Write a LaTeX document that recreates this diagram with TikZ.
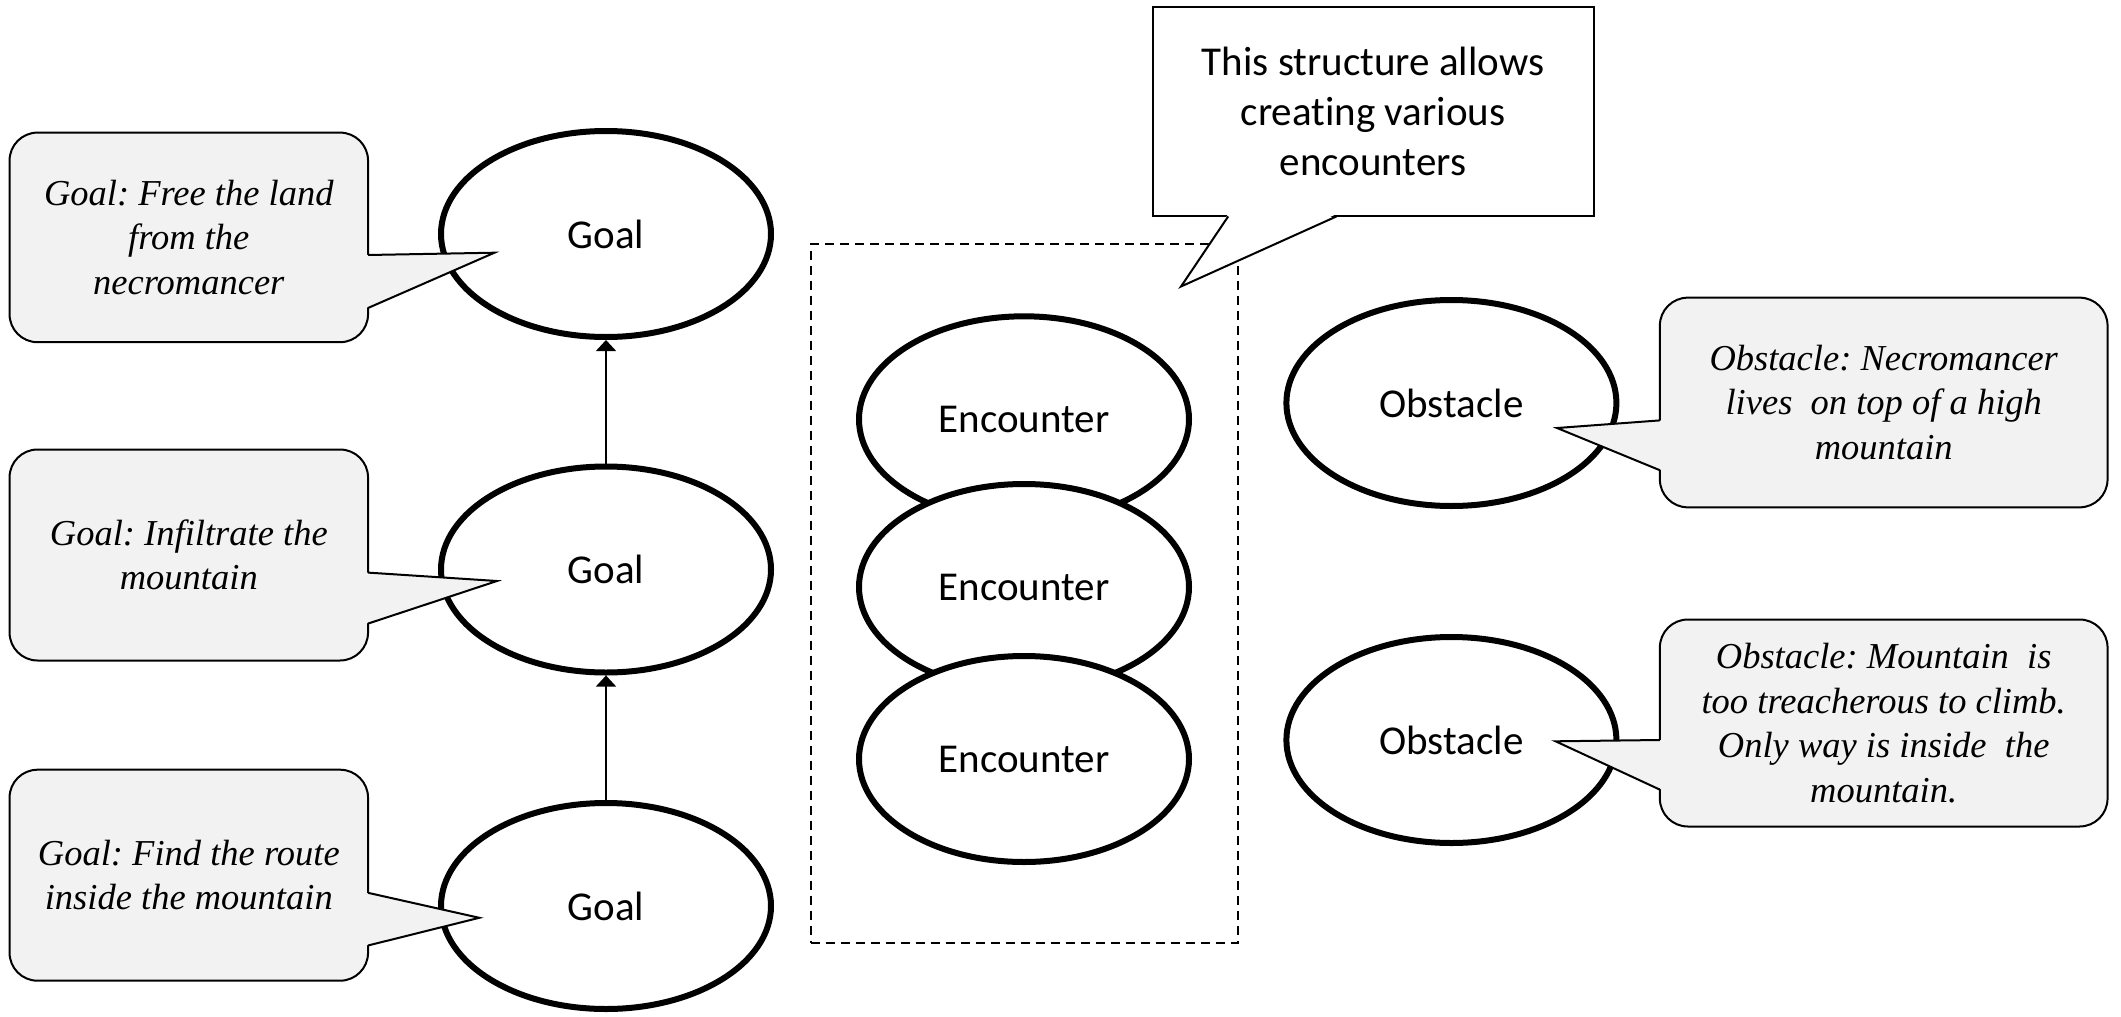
\documentclass[tikz,border=0pt]{standalone}
\usepackage{fontspec}
\setmainfont{Liberation Serif}
\newfontfamily\calib[Ligatures=NoCommon]{Carlito}
\usetikzlibrary{shapes.geometric,arrows.meta}
\definecolor{callfill}{HTML}{F2F2F2}
\frenchspacing
\begin{document}
\begin{tikzpicture}[x=1pt,y=-1pt,
  ell/.style={ellipse, draw, line width=6pt, fill=white, minimum width=330pt, minimum height=206pt, inner sep=0pt, font=\calib\fontsize{41}{50}\selectfont},
  callbox/.style={draw, line width=2pt, fill=callfill, rounded corners=28pt, inner sep=0pt, align=center, font=\itshape\fontsize{36.5}{44.6}\selectfont},
  ptrfill/.style={fill=callfill},
  ptrline/.style={line width=2pt, line join=miter},
  note/.style={draw, line width=2pt, fill=white, inner sep=0pt, align=center, font=\calib\fontsize{41}{50}\selectfont},
  link/.style={line width=1.3pt, -{Triangle[width=20pt,length=11pt]}}
]
\useasboundingbox (0,0) rectangle (2121,1017);

% goal ellipses
\node[ell] (g1) at (606,234) {Goal};
\node[ell] (g2) at (606,569.5) {Goal};
\node[ell] (g3) at (606,906) {Goal};
\draw[link] (g2.north) -- (g1.south);
\draw[link] (g3.north) -- (g2.south);

% dashed frame and encounters
\node[draw, line width=2pt, dash pattern=on 9pt off 6pt, minimum width=427pt, minimum height=699pt, inner sep=0pt] (frame) at (1024,593) {};
\node[ell] (e1) at (1024,419.3) {Encounter};
\node[ell] (e2) at (1024,587) {Encounter};
\node[ell] (e3) at (1024,759) {Encounter};

% obstacles
\node[ell] (o1) at (1451.4,403) {Obstacle};
\node[ell] (o2) at (1451.4,740) {Obstacle};

% top note
\node[note, minimum width=441pt, minimum height=209.6pt] (top) at (1373,111.6) {This structure allows\\creating various\\encounters};
\coordinate (topt) at (1181,286.5);
\fill[white] (1228.2,214) -- (topt) -- (1336.5,214) -- cycle;
\draw[ptrline] (1228.2,216.4) -- (topt) -- (1336.5,216.4);

% left callouts
\node[callbox, minimum width=358.5pt, minimum height=209.6pt] (c1) at (188.8,237.4) {Goal: Free the land\\from the\\necromancer};
\coordinate (c1t) at (494.5,252.7);
\fill[ptrfill] (366,255) -- (c1t) -- (366,308) -- cycle;
\draw[ptrline] (368,255) -- (c1t) -- (368,308);

\node[callbox, minimum width=358.5pt, minimum height=211pt] (c2) at (188.8,555) {Goal: Infiltrate the\\mountain};
\coordinate (c2t) at (497,581);
\fill[ptrfill] (366,572.6) -- (c2t) -- (366,623.6) -- cycle;
\draw[ptrline] (368,572.6) -- (c2t) -- (368,623.6);

\node[callbox, minimum width=358.5pt, minimum height=211pt] (c3) at (188.8,875.2) {Goal: Find the route\\inside the mountain};
\coordinate (c3t) at (479.3,917.8);
\fill[ptrfill] (366,892.8) -- (c3t) -- (366,945.5) -- cycle;
\draw[ptrline] (368,892.8) -- (c3t) -- (368,945.5);

% right callouts
\node[callbox, minimum width=447.7pt, minimum height=209.7pt] (n1) at (1883.7,402.5) {Obstacle: Necromancer\\lives\ \ on top of a high\\mountain};
\coordinate (n1t) at (1557,428);
\fill[ptrfill] (1661.8,420.4) -- (n1t) -- (1661.8,470.2) -- cycle;
\draw[ptrline] (1659.8,420.4) -- (n1t) -- (1659.8,470.2);

\node[callbox, minimum width=447.7pt, minimum height=207pt] (n2) at (1883.7,723) {Obstacle: Mountain\ \ is\\too treacherous to climb.\\Only way is inside\ \ the\\mountain.};
\coordinate (n2t) at (1555.6,741.3);
\fill[ptrfill] (1661.8,740) -- (n2t) -- (1661.8,789.6) -- cycle;
\draw[ptrline] (1659.8,740) -- (n2t) -- (1659.8,789.6);
\end{tikzpicture}
\end{document}
